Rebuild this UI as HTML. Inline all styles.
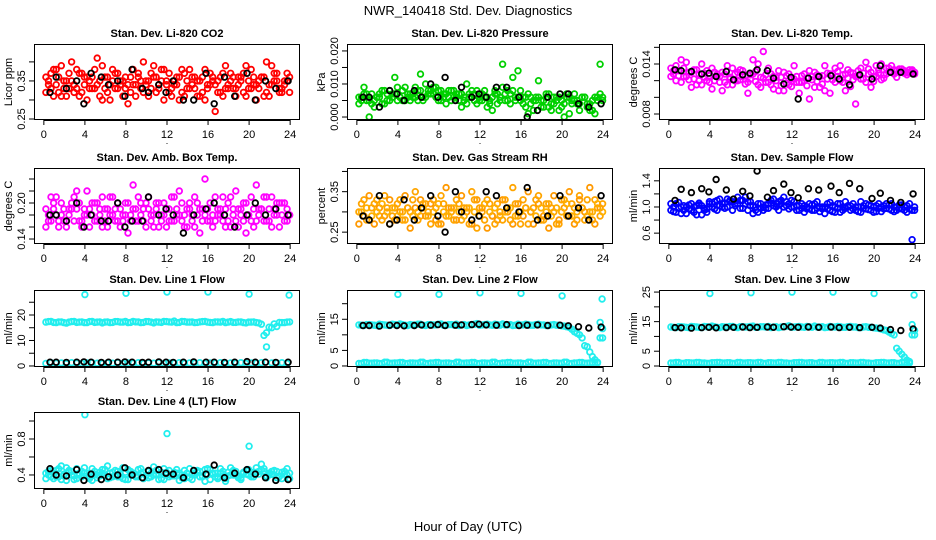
<!DOCTYPE html>
<html><head><meta charset="utf-8">
<style>
html,body{margin:0;padding:0;background:#fff;}
svg{display:block;font-family:"Liberation Sans",Arial,sans-serif;}
</style></head>
<body>
<svg id="chart" width="936" height="540" viewBox="0 0 936 540" xmlns="http://www.w3.org/2000/svg">
<rect width="936" height="540" fill="#fff"/>
<text x="468" y="15" text-anchor="middle" font-size="13">NWR_140418  Std. Dev. Diagnostics</text>
<text x="468" y="531" text-anchor="middle" font-size="13">Hour of Day (UTC)</text>
</svg>
<script>
// ---- shared time arrays ----
const hoursMain = [0.2,0.7,1.2,1.7,2.2,2.7,3.2,3.7,4.2,4.7,5.2,5.7,6.2,6.7,7.2,7.7,8.2,8.7,9.2,9.7,10.2,10.7,11.2,11.7,12.2,12.7,13.2,13.7,14.2,14.7,15.2,15.7,16.2,16.7,17.2,17.7,18.2,18.7,19.2,19.7,20.2,20.7,21.2,21.7,22.2,22.7,23.2,23.7];
const hoursMid = [0.45,0.95,1.45,1.95,2.45,2.95,3.45,3.95,4.45,4.95,5.45,5.95,6.45,6.95,7.45,7.95,8.45,8.95,9.45,9.95,10.45,10.95,11.45,11.95,12.45,12.95,13.45,13.95,14.45,14.95,15.45,15.95,16.45,16.95,17.45,17.95,18.45,18.95,19.45,19.95,20.45,20.95,21.45,21.95,22.45,22.95,23.45,23.95];
const hoursBlack = [0.6,1.2,2.2,3.2,3.9,4.6,5.6,6.3,7.2,7.9,8.6,9.6,10.2,11.2,11.9,12.6,13.6,14.6,15.8,16.6,17.6,18.6,19.8,20.6,21.6,22.6,23.8];
const hoursSpike = [4,8,12,16,20,23.9];
const xTicks = [0,4,8,12,16,20,24];

// ---- CO2 ----
const co2A = [.36,.33,.38,.31,.35,.40,.33,.37,.30,.36,.34,.39,.32,.35,.37,.31,.34,.38,.36,.32,.35,.39,.33,.30,.37,.34,.36,.31,.38,.33,.35,.30,.37,.34,.32,.39,.35,.33,.36,.31,.38,.34,.36,.32,.39,.35,.33,.37];
const co2B = [.32,.37,.34,.39,.31,.35,.38,.32,.36,.33,.41,.30,.36,.38,.33,.35,.29,.34,.37,.40,.31,.36,.34,.38,.32,.35,.30,.37,.33,.36,.31,.38,.34,.27,.36,.33,.37,.31,.35,.39,.33,.30,.36,.40,.34,.37,.32,.35];
const co2C = [.34,.31,.36,.35,.33,.32,.37,.34,.35,.33,.31,.36,.34,.33,.35,.36,.32,.34,.33,.35,.37,.32,.35,.34,.33,.36,.32,.35,.34,.31,.36,.33,.35,.32,.37,.34,.33,.36,.32,.35,.34,.33,.36,.31,.35,.32,.34,.36];
const co2D = [.35,.38,.32,.33,.37,.34,.31,.36,.33,.38,.35,.33,.30,.37,.34,.33,.36,.31,.35,.34,.33,.36,.38,.35,.31,.34,.38,.33,.36,.35,.32,.34,.36,.35,.31,.33,.36,.34,.37,.33,.36,.35,.31,.34,.37,.33,.35,.32];
const co2K = [.32,.36,.33,.35,.29,.37,.36,.34,.35,.31,.38,.33,.32,.34,.32,.35,.30,.30,.37,.29,.36,.31,.37,.30,.35,.33,.35];
// ---- Pressure ----
const presA = [.006,.007,.000,.005,.006,.008,.005,.007,.006,.009,.005,.006,.008,.010,.007,.006,.008,.007,.005,.006,.007,.004,.006,.008,.005,.003,.006,.007,.009,.008,.012,.006,.004,.007,.002,.006,.005,.003,.006,.002,.000,.006,.005,.004,.006,.002,.006,.007];
const presB = [.004,.009,.005,.003,.007,.004,.008,.012,.006,.005,.007,.009,.013,.006,.008,.009,.005,.004,.008,.007,.003,.010,.008,.004,.007,.006,.002,.004,.016,.005,.008,.014,.006,.001,.005,.011,.003,.007,.004,.006,.004,.001,.007,.002,.006,.004,.001,.016];
const presC = [.006,.005,.007,.006,.004,.007,.006,.005,.008,.006,.007,.005,.006,.008,.007,.005,.007,.006,.008,.005,.006,.007,.005,.006,.008,.005,.007,.006,.005,.007,.006,.005,.006,.004,.006,.005,.007,.004,.006,.005,.006,.004,.005,.006,.004,.005,.006,.005];
const presD = [.005,.007,.004,.006,.008,.005,.007,.009,.005,.007,.006,.008,.005,.007,.009,.008,.006,.008,.006,.007,.005,.006,.007,.005,.006,.004,.008,.005,.007,.004,.005,.008,.003,.006,.005,.003,.006,.002,.005,.003,.007,.005,.004,.006,.003,.002,.005,.006];
const presK = [.006,.006,.003,.008,.007,.005,.008,.006,.010,.006,.012,.005,.009,.006,.007,.006,.009,.009,.006,.000,.002,.006,.007,.007,.004,.003,.004];
// ---- Li-820 Temp ----
const ltA = [.0135,.012,.0145,.0125,.013,.0115,.014,.012,.0135,.0125,.013,.0115,.0135,.012,.0125,.0105,.0128,.014,.0155,.0118,.0125,.0108,.013,.0115,.0122,.0105,.012,.0132,.0112,.0125,.0138,.0105,.0135,.012,.0128,.0113,.0125,.0135,.0118,.013,.0125,.014,.0135,.013,.0132,.0131,.013,.0133];
const ltB = [.0125,.0138,.0118,.0142,.0112,.0133,.0115,.0132,.011,.0128,.0108,.0138,.0115,.013,.0132,.0118,.0145,.0115,.0123,.0135,.011,.0132,.0108,.0128,.0138,.0118,.0128,.0098,.013,.0112,.0108,.0128,.0118,.0138,.0108,.013,.0092,.0122,.0142,.0112,.0138,.0121,.0128,.0138,.0124,.0134,.0127,.0131];
const ltC = [.0128,.0132,.0125,.013,.0122,.0128,.0124,.0126,.012,.0125,.0118,.0124,.0128,.0121,.0126,.0122,.0119,.0124,.0127,.0115,.012,.0124,.0117,.0122,.0125,.0118,.0123,.0121,.0119,.0126,.0122,.0128,.0125,.0127,.0123,.0129,.0126,.0122,.0128,.0125,.0129,.0127,.0131,.0133,.013,.0132,.0129,.013];
const ltD = [.0132,.0126,.0135,.0121,.0133,.012,.0129,.0118,.013,.0118,.0128,.0122,.012,.0133,.0116,.0127,.0131,.0112,.0118,.0128,.0124,.0114,.0126,.0113,.0118,.0126,.0114,.0125,.0127,.0116,.0129,.0121,.0131,.0118,.0133,.0121,.0132,.0129,.0134,.0119,.0133,.0123,.0135,.0128,.0134,.0129,.0133,.0128];
const ltK = [.0133,.0132,.0131,.0128,.0129,.0125,.0131,.0121,.0127,.0129,.0133,.0132,.0123,.0116,.0124,.0098,.0123,.0125,.0126,.0122,.0115,.0127,.0122,.0138,.013,.013,.0128];
// ---- Amb Box Temp ----
const abA = [.19,.17,.21,.18,.16,.20,.19,.17,.22,.18,.20,.16,.19,.21,.17,.18,.20,.23,.17,.19,.21,.18,.16,.20,.19,.17,.22,.18,.20,.16,.19,.24,.17,.21,.18,.19,.16,.22,.18,.20,.17,.23,.19,.17,.21,.18,.20,.19];
const abB = [.16,.21,.18,.20,.17,.19,.22,.16,.18,.20,.17,.21,.16,.18,.20,.17,.15,.19,.21,.17,.19,.16,.20,.18,.17,.21,.18,.16,.19,.21,.15,.18,.20,.17,.19,.16,.21,.17,.19,.15,.21,.17,.19,.21,.16,.20,.18,.17];
const abC = [.18,.19,.17,.19,.18,.17,.20,.18,.19,.17,.18,.19,.18,.17,.19,.18,.17,.19,.18,.20,.17,.19,.18,.19,.17,.18,.20,.19,.17,.18,.19,.17,.18,.19,.17,.20,.18,.19,.17,.18,.19,.18,.17,.19,.18,.20,.17,.18];
const abD = [.17,.20,.16,.17,.19,.21,.17,.19,.16,.20,.19,.17,.21,.19,.16,.20,.18,.17,.20,.16,.18,.20,.17,.16,.21,.19,.17,.16,.18,.20,.17,.19,.16,.18,.21,.17,.19,.16,.20,.18,.16,.19,.21,.17,.19,.16,.20,.18];
const abK = [.18,.18,.17,.20,.16,.18,.17,.17,.20,.16,.17,.17,.21,.18,.19,.18,.15,.18,.19,.20,.18,.16,.18,.20,.18,.19,.18];
// ---- Gas Stream RH ----
const rhA = [.30,.33,.28,.32,.29,.34,.27,.31,.33,.28,.30,.35,.29,.32,.27,.31,.34,.29,.30,.33,.28,.31,.35,.26,.30,.33,.29,.32,.28,.31,.36,.29,.33,.27,.31,.34,.28,.32,.30,.27,.33,.29,.31,.34,.28,.30,.33,.29];
const rhB = [.27,.29,.34,.27,.31,.29,.33,.28,.30,.34,.26,.31,.33,.29,.32,.28,.27,.36,.31,.28,.34,.30,.27,.33,.31,.26,.29,.28,.33,.30,.27,.32,.29,.35,.27,.32,.29,.26,.34,.28,.31,.35,.27,.33,.30,.36,.27,.31];
const rhC = [.30,.31,.29,.30,.32,.30,.31,.29,.30,.31,.29,.30,.31,.29,.30,.32,.30,.29,.31,.30,.29,.31,.30,.29,.32,.30,.31,.29,.30,.31,.29,.30,.31,.30,.29,.31,.30,.29,.31,.30,.32,.29,.30,.31,.29,.30,.32,.30];
const rhD = [.32,.28,.31,.33,.28,.31,.29,.32,.28,.31,.33,.28,.32,.30,.33,.27,.32,.31,.28,.32,.31,.27,.33,.31,.28,.32,.27,.30,.33,.28,.32,.27,.31,.30,.33,.28,.32,.31,.27,.33,.29,.32,.28,.31,.33,.28,.31,.32];
const rhK = [.29,.28,.34,.27,.28,.33,.28,.31,.34,.29,.25,.35,.30,.28,.29,.35,.34,.31,.30,.36,.28,.29,.34,.29,.31,.28,.34];
// ---- Sample Flow ----
const sfA = [.95,1.05,.9,1.0,.95,1.02,.88,.97,1.05,1.1,1.0,1.12,1.08,1.05,1.1,.95,1.02,.92,1.0,1.05,1.12,1.08,1.15,1.05,1.0,.95,1.02,.97,1.05,.93,1.0,1.07,.92,1.05,.98,1.02,.95,1.08,.97,1.02,.93,1.0,1.05,.95,1.0,.97,1.02,.95];
const sfB = [1.05,.92,1.0,.9,1.05,.88,1.02,.92,1.0,.95,1.05,1.0,.95,1.15,.98,1.08,.9,1.05,.95,.98,1.02,.95,1.0,.97,1.08,1.02,.92,1.05,.95,1.0,.9,.95,1.0,.92,1.08,.95,1.0,.92,1.05,.95,1.02,.93,.98,1.05,.95,1.03,.92,0.5];
const sfC = [1.0,.98,1.02,.97,1.0,1.03,.98,1.05,1.08,1.02,1.06,1.08,1.02,1.1,1.05,1.02,1.0,.98,1.03,1.06,1.05,1.1,1.08,1.0,1.02,.98,1.0,1.03,.98,1.0,.97,1.02,.98,1.0,1.02,.97,1.0,1.02,.96,1.0,.98,1.02,.97,1.0,.98,1.0,.97,1.0];
const sfD = [.93,1.07,.95,1.03,.92,1.06,.95,1.08,.97,1.12,.98,1.1,1.05,.98,1.15,1.08,.95,1.05,.98,1.1,1.0,1.05,1.02,1.1,.95,1.05,.97,.95,1.08,.97,1.05,.93,1.05,.95,1.0,1.05,.93,.98,1.03,.92,1.05,.97,1.03,.93,1.03,.95,1.05,.95];
const sfK = [1.1,1.27,1.22,1.28,1.23,1.42,1.26,1.12,1.24,1.17,1.55,1.15,1.25,1.35,1.22,1.14,1.28,1.26,1.32,1.22,1.36,1.28,1.13,1.21,1.1,1.07,1.2];
// ---- Line 1 Flow ----
const l1A = [17.2,17.5,17,17.3,16.8,17.4,17.1,17.3,17,17.5,17.2,16.9,17.3,17.1,17.4,17.2,17,17.5,17.3,17.1,17.4,16.9,17.2,17.5,17.3,17.6,17.1,17.4,17.2,17,17.3,17.5,17.1,17.3,17.2,17,17.4,17.1,17.3,16.9,17.2,17,16.4,13,15,15.5,17,17.2];
const l1C = [17.4,17.1,17.3,17,17.2,17.5,17.2,17,17.4,17.1,17.3,17.2,17,17.4,17.2,17.5,17.1,17.3,17,17.4,17.2,17.3,17.1,17.4,17.2,17,17.5,17.2,17.3,17.1,17.4,17.2,17,17.3,17.5,17.2,17.1,17.3,17,17.2,17.3,16.9,12,15.2,16.5,17.1,17,17.3];
const l1B = [1.0,1.3,1.1,1.2,0.9,1.3,1.1,1.0,1.2,1.3,1.1,1.0,1.2,1.1,1.3,1.0,1.2,1.1,1.3,1.0,1.2,1.1,1.3,1.0,1.2,1.1,1.3,1.0,1.2,1.1,1.3,1.0,1.2,1.1,1.3,1.0,1.2,1.1,1.3,1.0,1.2,1.1,1.3,7.5,1.2,1.1,1.3,1.0];
const l1S = [28,28.5,29,29,28.2,27.8];
const l1K = [1.5,1.5,1.4,1.5,1.6,1.5,1.4,1.5,1.5,1.6,1.5,1.4,1.5,1.6,1.5,1.4,1.5,1.6,1.5,1.5,1.4,1.5,1.7,1.5,1.5,1.4,1.5];
// ---- Line 2 Flow ----
const l2A = [13.2,13,13.3,13.1,13.4,13.2,13,13.3,13.5,13.1,13.3,13.2,13.4,13,13.3,13.2,13.5,13.1,13.3,13.4,13.2,13,13.3,13.6,13.2,13.4,13.1,13.3,13.5,13.2,13,13.4,13.2,13.3,13.1,13.4,13.2,13,13.3,13.1,12.8,12.4,11,10,6.5,4.5,2,14];
const l2C = [13.1,13.3,13.2,13,13.3,13.1,13.4,13.2,13.3,13,13.2,13.4,13.1,13.3,13.2,13.4,13.1,13.3,13.2,13,13.3,13.2,13.4,13.1,13.3,13.2,13.4,13.1,13.2,13.3,13.1,13.2,13.4,13.1,13.3,13.2,13,13.2,13.1,12.9,12.6,11.8,10.5,9,6.2,3,1,12];
const l2B = [0.8,1.1,0.9,1.0,0.8,1.2,0.9,1.0,1.1,0.8,1.0,0.9,1.2,0.8,1.0,1.1,0.9,1.0,0.8,1.2,0.9,1.0,1.1,0.8,1.0,0.9,1.2,0.8,1.0,1.1,0.9,1.0,0.8,1.2,0.9,1.0,1.1,0.8,1.0,0.9,1.2,0.8,1.0,1.1,0.9,1.0,1.2,9.0];
const l2S = [23,23,23.5,23.3,22.5,21.5];
const l2K = [13,13,12.8,13.1,13,12.9,13,13.2,13.1,13.3,13,13.1,13.2,13.3,13.4,13.2,13.1,13.3,13,13.1,13.2,13,13.1,12.9,12.6,12.2,12.5];
// ---- Line 3 Flow ----
const l3A = [13.2,13,13.3,13.1,13.4,13.2,13,13.3,13.5,13.1,13.3,13.2,13.4,13,13.3,13.2,13.5,13.1,13.3,13.4,13.2,13,13.3,13.6,13.2,13.4,13.1,13.3,13.5,13.2,13,13.4,13.2,13.3,13.1,13.4,13.2,13,13.3,13.1,12.8,12.5,12,11,6,4,2,14];
const l3C = [13.1,13.3,13.2,13,13.3,13.1,13.4,13.2,13.3,13,13.2,13.4,13.1,13.3,13.2,13.4,13.1,13.3,13.2,13,13.3,13.2,13.4,13.1,13.3,13.2,13.4,13.1,13.2,13.3,13.1,13.2,13.4,13.1,13.3,13.2,13,13.2,13.1,12.9,12.7,12.2,11.5,10.5,5,3,1.5,12];
const l3B = [1.0,1.2,0.9,1.1,1.0,1.2,1.0,0.9,1.1,1.2,1.0,1.1,0.9,1.2,1.0,1.1,1.0,1.2,0.9,1.1,1.0,1.2,1.0,0.9,1.1,1.2,1.0,1.1,0.9,1.2,1.0,1.1,1.0,1.2,0.9,1.1,1.0,1.2,1.0,0.9,1.1,1.2,1.0,1.1,0.9,1.2,1.0,10.5];
const l3S = [24.5,24.8,25,25,24.5,24];
const l3K = [13,12.9,12.8,13,13.1,12.9,13,13.1,13.2,13,13.1,13.2,13.1,13.3,13.2,13.1,13.2,13.1,13.2,13,13.1,13,13.1,12.8,12.3,12,12.5];
// ---- Line 4 Flow ----
const l4A = [.42,.38,.45,.35,.48,.40,.36,.44,.39,.47,.37,.42,.50,.38,.44,.36,.46,.41,.38,.43,.37,.49,.40,.35,.45,.39,.42,.36,.47,.40,.44,.33,.46,.38,.42,.36,.48,.40,.37,.45,.41,.48,.52,.39,.44,.37,.43,.40];
const l4B = [.36,.45,.38,.50,.34,.44,.47,.38,.42,.34,.40,.46,.36,.43,.38,.48,.35,.42,.46,.36,.44,.40,.35,.47,.38,.43,.34,.45,.37,.42,.38,.46,.35,.42,.47,.33,.40,.44,.35,.41,.38,.43,.46,.37,.41,.44,.36,.47];
const l4C = [.40,.42,.38,.41,.43,.39,.40,.42,.38,.41,.43,.39,.42,.40,.38,.43,.41,.39,.42,.40,.38,.41,.43,.40,.39,.42,.40,.38,.41,.43,.39,.40,.42,.38,.41,.43,.40,.39,.42,.40,.43,.41,.44,.42,.40,.39,.41,.42];
const l4D = [.44,.36,.47,.39,.45,.35,.42,.48,.36,.44,.39,.46,.37,.45,.41,.35,.44,.38,.47,.39,.42,.45,.36,.43,.40,.46,.37,.42,.35,.45,.38,.47,.41,.36,.44,.39,.45,.37,.43,.46,.38,.44,.47,.40,.45,.38,.44,.36];
const l4SHours = [4,12,20];
const l4S = [1.07,0.86,0.72];
const l4K = [.47,.40,.39,.46,.34,.41,.35,.38,.40,.48,.40,.37,.45,.46,.42,.41,.37,.45,.41,.51,.37,.42,.46,.41,.37,.34,.35];

const NS = 'http://www.w3.org/2000/svg';
const svg = document.getElementById('chart');
function mk(tag, attrs, parent){const e=document.createElementNS(NS,tag);for(const k in attrs)e.setAttribute(k,attrs[k]);(parent||svg).appendChild(e);return e;}

const colX = [[34,300],[347,613],[659,925]];
const rowY = [[44,120],[168,244],[290,367],[412,489]];

const panels = [
 {id:'co2',title:'Stan. Dev. Li-820 CO2',ylab:'Licor ppm',col:0,row:0,ylim:[0.2474,0.447],ticks:[.25,.30,.35,.40],labels:['0.25','','0.35',''],
  series:[[hoursMain,co2A,'#ff0000'],[hoursMain,co2B,'#ff0000'],[hoursMid,co2C,'#ff0000'],[hoursMid,co2D,'#ff0000'],[hoursBlack,co2K,'#000']]},
 {id:'pressure',title:'Stan. Dev. Li-820 Pressure',ylab:'kPa',col:1,row:0,ylim:[-0.0009,0.0221],ticks:[0,.005,.01,.015,.02],labels:['0.000','','0.010','','0.020'],
  series:[[hoursMain,presA,'#00d000'],[hoursMain,presB,'#00d000'],[hoursMid,presC,'#00d000'],[hoursMid,presD,'#00d000'],[hoursBlack,presK,'#000']]},
 {id:'li820-temp',title:'Stan. Dev. Li-820 Temp.',ylab:'degrees C',col:2,row:0,ylim:[0.00728,0.0164],ticks:[.008,.010,.012,.014,.016],labels:['0.008','','','0.014',''],
  series:[[hoursMain,ltA,'#ff00ff'],[hoursMain,ltB,'#ff00ff'],[hoursMid,ltC,'#ff00ff'],[hoursMid,ltD,'#ff00ff'],[hoursBlack,ltK,'#000']]},
 {id:'amb-box-temp',title:'Stan. Dev. Amb. Box Temp.',ylab:'degrees C',col:0,row:1,ylim:[0.1317,0.2583],ticks:[.14,.16,.18,.20,.22,.24],labels:['0.14','','','0.20','',''],
  series:[[hoursMain,abA,'#ff00ff'],[hoursMain,abB,'#ff00ff'],[hoursMid,abC,'#ff00ff'],[hoursMid,abD,'#ff00ff'],[hoursBlack,abK,'#000']]},
 {id:'gas-stream-rh',title:'Stan. Dev. Gas Stream RH',ylab:'percent',col:1,row:1,ylim:[0.2207,0.4085],ticks:[.25,.30,.35,.40],labels:['0.25','','0.35',''],
  series:[[hoursMain,rhA,'#ffa500'],[hoursMain,rhB,'#ff9900'],[hoursMid,rhC,'#ffb000'],[hoursMid,rhD,'#ffa500'],[hoursBlack,rhK,'#000']]},
 {id:'sample-flow',title:'Stan. Dev. Sample Flow',ylab:'ml/min',col:2,row:1,ylim:[0.434,1.596],ticks:[.6,.8,1.0,1.2,1.4],labels:['0.6','','1.0','','1.4'],
  series:[[hoursMain,sfA,'#0000ff'],[hoursMain,sfB,'#0000ff'],[hoursMid,sfC,'#0000ff'],[hoursMid,sfD,'#0000ff'],[hoursBlack,sfK,'#000']]},
 {id:'line1-flow',title:'Stan. Dev. Line 1 Flow',ylab:'ml/min',col:0,row:2,ylim:[-0.4,29.8],ticks:[0,5,10,15,20,25],labels:['0','','10','','20',''],
  series:[[hoursMain,l1A,'#22eeee'],[hoursMid,l1C,'#22eeee'],[hoursMain,l1B,'#22eeee'],[hoursSpike,l1S,'#22eeee'],[hoursBlack,l1K,'#000']]},
 {id:'line2-flow',title:'Stan. Dev. Line 2 Flow',ylab:'ml/min',col:1,row:2,ylim:[-0.33,24.4],ticks:[0,5,10,15,20],labels:['0','5','','15',''],
  series:[[hoursMain,l2A,'#22eeee'],[hoursMid,l2C,'#22eeee'],[hoursBlack,l2K,'#000'],[hoursMain,l2B,'#22eeee'],[hoursMid,l2B,'#22eeee'],[hoursSpike,l2S,'#22eeee']]},
 {id:'line3-flow',title:'Stan. Dev. Line 3 Flow',ylab:'ml/min',col:2,row:2,ylim:[-0.34,25.7],ticks:[0,5,10,15,20,25],labels:['0','5','','15','','25'],
  series:[[hoursMain,l3A,'#22eeee'],[hoursMid,l3C,'#22eeee'],[hoursBlack,l3K,'#000'],[hoursMain,l3B,'#22eeee'],[hoursMid,l3B,'#22eeee'],[hoursSpike,l3S,'#22eeee']]},
 {id:'line4-flow',title:'Stan. Dev. Line 4 (LT) Flow',ylab:'ml/min',col:0,row:3,ylim:[0.244,1.1],ticks:[.4,.6,.8,1.0],labels:['0.4','','0.8',''],
  series:[[hoursMain,l4A,'#22eeee'],[hoursMain,l4B,'#22eeee'],[hoursMid,l4C,'#22eeee'],[hoursMid,l4D,'#22eeee'],[l4SHours,l4S,'#22eeee'],[hoursBlack,l4K,'#000']]}
];

panels.forEach(p=>{
  const [x0,x1]=colX[p.col], [y0,y1]=rowY[p.row];
  const g = mk('g',{});
  
  
  const xs = v => x0 + (v+0.96)/25.92*(x1-x0);
  const ys = v => y1 - (v-p.ylim[0])/(p.ylim[1]-p.ylim[0])*(y1-y0);
  const clip = mk('clipPath',{id:'clip-'+p.id},g);
  mk('rect',{x:x0,y:y0,width:x1-x0,height:y1-y0},clip);
  const t = mk('text',{x:(x0+x1)/2,y:y0-7,'text-anchor':'middle','font-size':11,'font-weight':'bold'},g);
  t.textContent = p.title;
  
  
  const pts = mk('g',{'clip-path':'url(#clip-'+p.id+')'},g);
  p.series.forEach(s=>{
    const [hx,vy,col]=s;
    for(let i=0;i<vy.length && i<hx.length;i++){
      const c = mk('circle',{cx:xs(hx[i]).toFixed(1),cy:ys(vy[i]).toFixed(1),r:2.8,fill:'none',stroke:col,'stroke-width':1.8},pts);
      
      
    }
  });
  const box = mk('rect',{x:x0+0.5,y:y0+0.5,width:x1-x0-1,height:y1-y0-1,fill:'none',stroke:'#000','stroke-width':1},g);
  
  
  const xa = mk('g',{},g);
  
  
  mk('line',{x1:xs(xTicks[0]),x2:xs(xTicks[xTicks.length-1]),y1:y1+0.5,y2:y1+0.5,stroke:'#000'},xa);
  xTicks.forEach(v=>{
    const X=xs(v);
    mk('line',{x1:X,x2:X,y1:y1,y2:y1+5,stroke:'#000'},xa);
    const l=mk('text',{x:X,y:y1+18,'text-anchor':'middle','font-size':11},xa);
    l.textContent=String(v);
  });
  const dot=mk('text',{x:(x0+x1)/2,y:y1+24,'text-anchor':'middle','font-size':9},g);
  dot.textContent='.';
  const ya = mk('g',{},g);
  
  
  mk('line',{x1:x0+0.5,x2:x0+0.5,y1:ys(p.ticks[0]),y2:ys(p.ticks[p.ticks.length-1]),stroke:'#000'},ya);
  p.ticks.forEach((v,i)=>{
    const Y=ys(v);
    mk('line',{x1:x0-5,x2:x0,y1:Y,y2:Y,stroke:'#000'},ya);
    if(p.labels[i]){
      const l=mk('text',{x:0,y:0,'text-anchor':'middle','font-size':11,transform:`translate(${x0-9},${Y}) rotate(-90)`},ya);
      l.textContent=p.labels[i];
    }
  });
  const yl=mk('text',{x:0,y:0,'text-anchor':'middle','font-size':11,transform:`translate(${x0-22},${(y0+y1)/2}) rotate(-90)`},g);
  yl.textContent=p.ylab;
  
  
});
</script>
</body></html>
